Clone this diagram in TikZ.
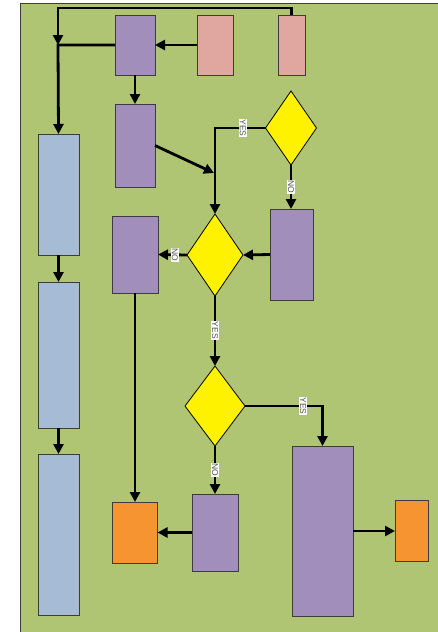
\documentclass[tikz,border=0pt]{standalone}
\usepackage{fontspec}
\setmainfont{Liberation Sans}
\usetikzlibrary{shapes.geometric,arrows.meta}
\definecolor{bggreen}{RGB}{175,197,116}
\definecolor{purp}{RGB}{161,142,187}
\definecolor{pinkbox}{RGB}{224,167,160}
\definecolor{bluebox}{RGB}{166,188,212}
\definecolor{orangebox}{RGB}{246,148,50}
\definecolor{edgegrey}{RGB}{60,60,60}
\definecolor{lblgrey}{RGB}{80,80,80}
\tikzset{
  box/.style={draw=edgegrey, line width=0.9pt, rectangle, inner sep=0pt, outer sep=0pt},
  dec/.style={draw=black, line width=0.8pt, diamond, fill=yellow, inner sep=0pt, outer sep=0pt},
  arr/.style={line width=2.8pt, -{Triangle[length=10pt,width=10pt]}},
  lbl/.style={fill=white, text=lblgrey, font=\fontsize{8.5}{8.5}\selectfont, inner sep=0.8pt, rotate=-90}
}
\begin{document}
\begin{tikzpicture}[x=1pt,y=-1pt]
\useasboundingbox (0,0) rectangle (437,632);
% background panel
\fill[bggreen] (20.5,3.5) rectangle (438,633);
\draw[edgegrey, line width=1.2pt] (20.5,633) -- (20.5,3.5) -- (438,3.5);

% process boxes
\node[box, fill=purp, minimum width=40pt, minimum height=60pt] (p1) at (135,45) {};
\node[box, fill=pinkbox, minimum width=36pt, minimum height=60pt] (k1) at (215,45) {};
\node[box, fill=pinkbox, minimum width=27pt, minimum height=60pt] (k2) at (291.5,45) {};
\node[box, fill=purp, minimum width=40pt, minimum height=83pt] (p2) at (135,145.5) {};
\node[box, fill=bluebox, minimum width=41pt, minimum height=121pt] (b1) at (58.5,194.5) {};
\node[box, fill=bluebox, minimum width=41pt, minimum height=146pt] (b2) at (58.5,355) {};
\node[box, fill=bluebox, minimum width=41pt, minimum height=161pt] (b3) at (58.5,534.5) {};
\node[box, fill=purp, minimum width=43pt, minimum height=91pt] (p3) at (291.5,254.5) {};
\node[box, fill=purp, minimum width=46pt, minimum height=77pt] (p4) at (135,254.5) {};
\node[box, fill=purp, minimum width=46pt, minimum height=77pt] (p5) at (215,532.5) {};
\node[box, fill=orangebox, minimum width=45pt, minimum height=61pt] (o1) at (135,532.5) {};
\node[box, fill=purp, minimum width=61pt, minimum height=170pt] (p6) at (322.5,531) {};
\node[box, fill=orangebox, minimum width=33pt, minimum height=61pt] (o2) at (411.5,531) {};

% decisions
\node[dec, minimum width=51pt, minimum height=74pt] (d1) at (291,128) {};
\node[dec, minimum width=56pt, minimum height=82pt] (d2) at (215,255) {};
\node[dec, minimum width=60pt, minimum height=80pt] (d3) at (215,406) {};

% helper points
\coordinate (tl) at (58,8);
\coordinate (j) at (58,45);
\coordinate (m) at (214,173);

% connectors
\draw[arr] (k2.north) |- (tl) -- (j);
\draw[arr] (p1.west) -- (j) -- (b1.north);
\draw[arr] (k1.west) -- (p1.east);
\draw[arr] (p1.south) -- (p2.north);
\draw[arr] (p2.east) -- (m);
\draw[arr] (d1.west) -| node[lbl, pos=0.225] {YES} (d2.north);
\draw[arr] (d1.south) -- node[lbl] {NO} (d1.south |- p3.north);
\draw[arr] (p3.west) -- (d2.east);
\draw[arr] (d2.west) -- node[lbl, pos=0.42] {NO} (p4.east);
\draw[arr] (d2.south) -- node[lbl, pos=0.49] {YES} (d3.north);
\draw[arr] (d3.east) -| node[lbl, pos=0.375] {YES} (p6.north);
\draw[arr] (d3.south) -- node[lbl] {NO} (p5.north);
\draw[arr] (p5.west) -- (o1.east);
\draw[arr] (p4.south) -- (o1.north);
\draw[arr] (p6.east) -- (o2.west);
\draw[arr] (b1.south) -- (b2.north);
\draw[arr] (b2.south) -- (b3.north);
\end{tikzpicture}
\end{document}
